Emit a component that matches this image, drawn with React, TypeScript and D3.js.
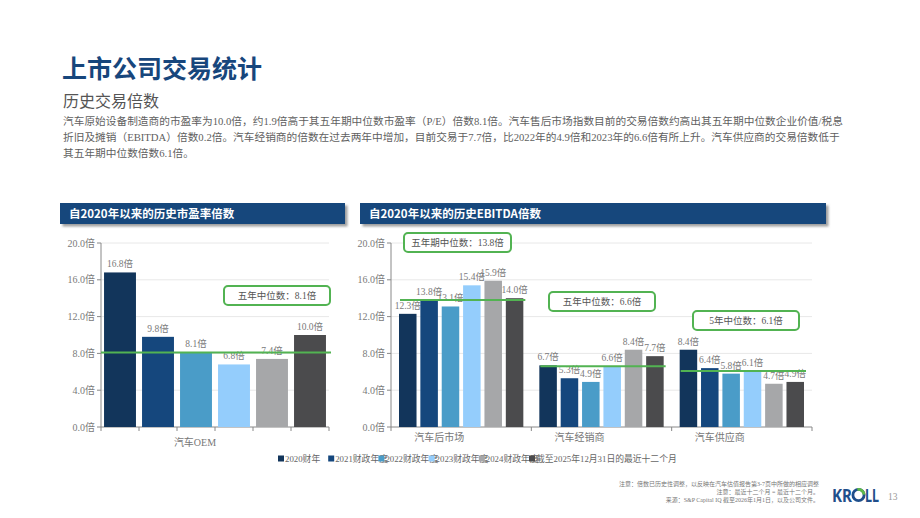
import React from "react";
import * as d3 from "d3";

// series
const seriesNames = [
  "2020财年",
  "2021财政年度",
  "2022财政年度",
  "2023财政年度",
  "2024财政年度",
  "截至2025年12月31日的最近十二个月",
];
const seriesColors = ["#12355b", "#15477d", "#4a9cc8", "#94cdfc", "#a6a7a9", "#4b4b4d"];

// P/E chart
const peCategory = "汽车OEM";
const peValues = [16.8, 9.8, 8.1, 6.8, 7.4, 10.0];
const peMedian = 8.1;
const peMedianLabel = "五年中位数：8.1倍";

// EBITDA chart
const evCategories = ["汽车后市场", "汽车经销商", "汽车供应商"];
const evAftermarket = [12.3, 13.8, 13.1, 15.4, 15.9, 14.0];
const evDealers = [6.7, 5.3, 4.9, 6.6, 8.4, 7.7];
const evSuppliers = [8.4, 6.4, 5.8, 6.1, 4.7, 4.9];
const evMedians = [13.8, 6.6, 6.1];
const evMedianLabels = ["五年期中位数：13.8倍", "五年中位数：6.6倍", "5年中位数：6.1倍"];

const yTicks = [0, 4, 8, 12, 16, 20];

const SERIF = "'Liberation Serif', 'Noto Sans CJK SC', serif";
const SANS = "'Noto Sans CJK SC', 'Noto Sans', sans-serif";
const GREEN = "#52b352";
const NAVY = "#17467c";
const fmt = (v: number) => d3.format(".1f")(v) + "倍";

function YAxis({ y, x0, x1 }: { y: d3.ScaleLinear<number, number>; x0: number; x1: number }) {
  return (
    <g>
      {yTicks.map((t) => (
        <g key={t}>
          {t > 0 && <line x1={x0} x2={x1} y1={y(t)} y2={y(t)} stroke="#e8e8e8" />}
          <line x1={x0 - 4} x2={x0} y1={y(t)} y2={y(t)} stroke="#888" />
          <text x={x0 - 6} y={y(t) + 3.5} textAnchor="end" fontSize={10} fill="#7a7a7a" fontFamily={SERIF}>
            {fmt(t)}
          </text>
        </g>
      ))}
      <line x1={x0} x2={x0} y1={y(20)} y2={y(0)} stroke="#888" />
      <line x1={x0} x2={x1} y1={y(0)} y2={y(0)} stroke="#888" />
    </g>
  );
}

function MedianBox({ x, y, w, h, label }: { x: number; y: number; w: number; h: number; label: string }) {
  return (
    <g>
      <rect x={x} y={y} width={w} height={h} rx={4} fill="#fff" stroke={GREEN} strokeWidth={2} />
      <text x={x + w / 2} y={y + h / 2 + 3.5} textAnchor="middle" fontSize={9.5} fill="#555" fontFamily={SERIF}>
        {label}
      </text>
    </g>
  );
}

function Banner({ x, y, w, title }: { x: number; y: number; w: number; title: string }) {
  return (
    <g>
      <rect x={x} y={y} width={w} height={21} fill={NAVY} filter="url(#shadow)" />
      <text x={x + 9} y={y + 14.5} fontSize={11.5} fontWeight={700} fill="#fff" fontFamily={SANS}>
        {title}
      </text>
    </g>
  );
}

function PeChart() {
  const y = d3.scaleLinear().domain([0, 20]).range([427, 243]);
  const x = d3.scaleBand<number>().domain(d3.range(peValues.length)).range([101, 329]).padding(0);
  const bw = x.bandwidth() * 0.84;
  return (
    <g>
      <Banner x={60} y={203} w={285} title="自2020年以来的历史市盈率倍数" />
      <YAxis y={y} x0={101} x1={329} />
      {d3.range(peValues.length + 1).map((i) => (
        <line key={i} x1={101 + i * x.step()} x2={101 + i * x.step()} y1={427} y2={431} stroke="#888" />
      ))}
      {peValues.map((v, i) => {
        const cx = (x(i) as number) + x.bandwidth() / 2;
        return (
          <g key={i}>
            <rect x={cx - bw / 2} y={y(v)} width={bw} height={y(0) - y(v)} fill={seriesColors[i]} />
            <text x={cx} y={y(v) - 5} textAnchor="middle" fontSize={9.5} fill="#7a7a7a" fontFamily={SERIF}>
              {fmt(v)}
            </text>
          </g>
        );
      })}
      <line x1={101} x2={331} y1={y(peMedian)} y2={y(peMedian)} stroke={GREEN} strokeWidth={2} />
      <MedianBox x={224} y={286} w={106} h={19} label={peMedianLabel} />
      <text x={195} y={446} textAnchor="middle" fontSize={10} fill="#777" fontFamily={SERIF}>
        {peCategory}
      </text>
    </g>
  );
}

function EvChart() {
  const groups = [evAftermarket, evDealers, evSuppliers];
  const y = d3.scaleLinear().domain([0, 20]).range([427, 243]);
  const x0 = d3.scaleBand<string>().domain(evCategories).range([391, 812]).padding(0);
  const x1 = d3
    .scaleBand<number>()
    .domain(d3.range(seriesNames.length))
    .range([8, x0.step() - 8])
    .paddingInner(0.18);
  const boxes = [
    { x: 404, y: 233, w: 107 },
    { x: 549, y: 292, w: 106 },
    { x: 693, y: 311, w: 106 },
  ];
  return (
    <g>
      <Banner x={360} y={203} w={466} title="自2020年以来的历史EBITDA倍数" />
      <YAxis y={y} x0={391} x1={812} />
      {d3.range(evCategories.length + 1).map((i) => (
        <line key={i} x1={391 + i * x0.step()} x2={391 + i * x0.step()} y1={427} y2={431} stroke="#888" />
      ))}
      {groups.map((vals, g) => {
        const gx = x0(evCategories[g]) as number;
        return (
          <g key={g} transform={`translate(${gx},0)`}>
            {vals.map((v, i) => (
              <g key={i}>
                <rect
                  x={x1(i)}
                  y={y(v)}
                  width={x1.bandwidth()}
                  height={y(0) - y(v)}
                  fill={seriesColors[i]}
                />
                <text
                  x={(x1(i) as number) + x1.bandwidth() / 2}
                  y={y(v) - 5}
                  textAnchor="middle"
                  fontSize={9.5}
                  fill="#7a7a7a"
                  fontFamily={SERIF}
                >
                  {fmt(v)}
                </text>
              </g>
            ))}
            <line
              x1={9}
              x2={x0.step() - 6}
              y1={y(evMedians[g])}
              y2={y(evMedians[g])}
              stroke={GREEN}
              strokeWidth={2}
            />
            <text x={x0.step() / 2 - 22} y={441} textAnchor="middle" fontSize={10} fill="#777" fontFamily={SERIF}>
              {evCategories[g]}
            </text>
          </g>
        );
      })}
      {boxes.map((b, i) => (
        <MedianBox key={i} x={b.x} y={b.y} w={b.w} h={19} label={evMedianLabels[i]} />
      ))}
    </g>
  );
}

function Legend() {
  return (
    <g>
      {seriesNames.map((s, i) => {
        const lx = 278 + i * 50.2;
        return (
          <g key={s}>
            <rect x={lx} y={455.5} width={6} height={6} fill={seriesColors[i]} />
            <text x={lx + 7} y={462} fontSize={8.8} fill="#666" fontFamily={SERIF}>
              {s}
            </text>
          </g>
        );
      })}
    </g>
  );
}

function Logo() {
  const c = { x: 858.5, y: 495 };
  const r = 5.6;
  const arc = d3.arc()({ innerRadius: r - 1.4, outerRadius: r + 1.4, startAngle: -0.2, endAngle: 1.5 }) as string;
  return (
    <g>
      <text x={832} y={502} fontSize={18} fontWeight={700} fill="#1f4f8b" fontFamily="'Noto Sans', sans-serif" textLength={20} lengthAdjust="spacingAndGlyphs">
        KR
      </text>
      <circle cx={c.x} cy={c.y} r={r} fill="none" stroke="#1f4f8b" strokeWidth={2.8} />
      <path d={arc} transform={`translate(${c.x},${c.y})`} fill="#5fb94a" />
      <text x={865} y={502} fontSize={18} fontWeight={700} fill="#1f4f8b" fontFamily="'Noto Sans', sans-serif" textLength={14} lengthAdjust="spacingAndGlyphs">
        LL
      </text>
      <text x={888} y={500} fontSize={9.5} fill="#999" fontFamily={SERIF}>
        13
      </text>
    </g>
  );
}

export default function App() {
  return (
    <svg
      width={920}
      height={518}
      style={{ position: "fixed", left: 0, top: 0, background: "#fff" }}
      fontFamily={SANS}
    >
      <defs>
        <filter id="shadow" x="-5%" y="-30%" width="115%" height="180%">
          <feDropShadow dx={2.5} dy={2.5} stdDeviation={1.2} floodColor="#888" floodOpacity={0.8} />
        </filter>
      </defs>
      <rect width={920} height={518} fill="#fff" />
      <text x={62} y={78} fontSize={25} fontWeight={700} fill={NAVY} fontFamily={SANS}>
        上市公司交易统计
      </text>
      <text x={63} y={107} fontSize={16} fill="#555" fontFamily={SANS}>
        历史交易倍数
      </text>
      <g fontSize={10.7} fill="#5f5f5f" fontFamily={SERIF}>
        <text x={63} y={125}>
          汽车原始设备制造商的市盈率为10.0倍，约1.9倍高于其五年期中位数市盈率（P/E）倍数8.1倍。汽车售后市场指数目前的交易倍数约高出其五年期中位数企业价值/税息
        </text>
        <text x={63} y={141}>
          折旧及摊销（EBITDA）倍数0.2倍。汽车经销商的倍数在过去两年中增加，目前交易于7.7倍，比2022年的4.9倍和2023年的6.6倍有所上升。汽车供应商的交易倍数低于
        </text>
        <text x={63} y={157}>其五年期中位数倍数6.1倍。</text>
      </g>
      <PeChart />
      <EvChart />
      <Legend />
      <g fontSize={6} fill="#777" fontFamily={SERIF} textAnchor="end">
        <text x={819} y={486}>注意：倍数已历史性调整，以反映在汽车估值报告第3-7页中所做的相应调整</text>
        <text x={819} y={494}>注意：最近十二个月 = 最近十二个月。</text>
        <text x={819} y={502}>来源：S&amp;P Capital IQ 截至2026年1月1日，以及公司文件。</text>
      </g>
      <Logo />
    </svg>
  );
}
